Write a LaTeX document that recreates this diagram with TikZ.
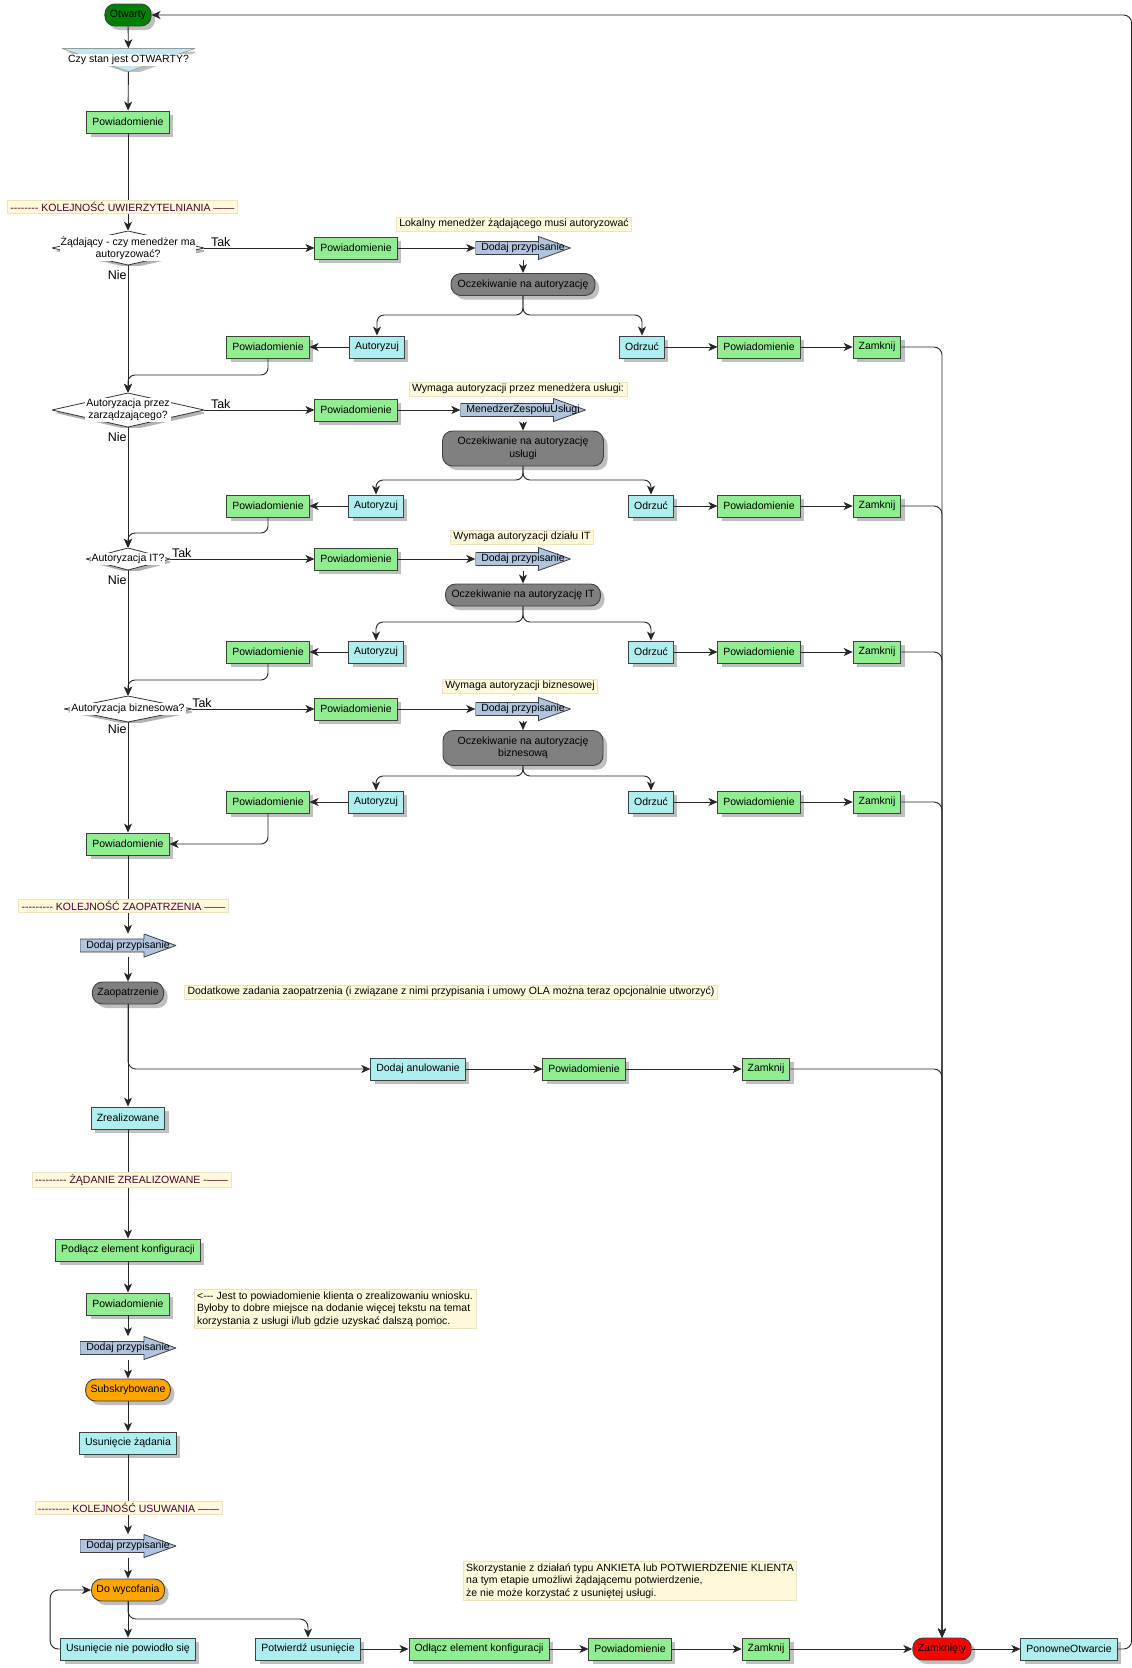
\documentclass[tikz,border=0pt]{standalone}
\usepackage{fontspec}
\newfontfamily\dfont{Liberation Sans}
\usepackage{xcolor}
\usepackage{tikz}
\usetikzlibrary{arrows.meta,shadows}

\definecolor{notifygreen}{HTML}{90EE90}
\definecolor{actioncyan}{HTML}{AFEEEE}
\definecolor{waitgray}{HTML}{808080}
\definecolor{opengreen}{HTML}{008000}
\definecolor{stateorange}{HTML}{FFA500}
\definecolor{closedred}{HTML}{FF0000}
\definecolor{assignblue}{HTML}{B0C4DE}
\definecolor{qblue}{HTML}{C4E6F2}
\definecolor{notefill}{HTML}{FFF9DB}
\definecolor{noteline}{HTML}{EDE3BC}
\definecolor{headtext}{HTML}{4A0030}

\newcommand{\ppb}{path picture bounding box}
\newcommand{\assignpoly}{([yshift=-5pt]\ppb.north west) -- ([xshift=-32pt,yshift=-5pt]\ppb.north east) -- ([xshift=-32pt]\ppb.north east) -- (\ppb.east) -- ([xshift=-32pt]\ppb.south east) -- ([xshift=-32pt,yshift=5pt]\ppb.south east) -- ([yshift=5pt]\ppb.south west) -- cycle}

\begin{document}
\begin{tikzpicture}[x=1pt, y=-1pt,
  every node/.style={font=\dfont\fontsize{10.5}{12.5}\selectfont},
  boxshadow/.style={drop shadow={shadow xshift=4pt, shadow yshift=-4pt, fill=black!25, opacity=1}},
  flowbox/.style={rectangle, draw=black!75, line width=0.9pt, minimum height=22pt, inner xsep=5.5pt, inner ysep=2pt, boxshadow},
  notifybox/.style={flowbox, fill=notifygreen},
  actionbox/.style={flowbox, fill=actioncyan},
  statebox/.style={flowbox, rounded corners=10pt, inner xsep=5pt},
  waitstate/.style={statebox, fill=waitgray, align=center},
  note/.style={rectangle, fill=notefill, draw=noteline, line width=0.6pt, inner xsep=3pt, inner ysep=2pt, align=left},
  heading/.style={note, text=headtext},
  flow/.style={draw=black!85, line width=0.9pt},
  arr/.style={flow, -{Stealth[length=9pt, width=8pt, inset=2.5pt]}},
  tag/.style={font=\dfont\fontsize{12.5}{14}\selectfont, inner sep=1pt},
  qtext/.style={fill=white, inner sep=1pt, align=center},
  question/.style={rectangle, inner sep=0pt, path picture={
    \fill[black!30] ([xshift=3pt,yshift=-3pt]\ppb.north) -- ([xshift=3pt,yshift=-3pt]\ppb.east) -- ([xshift=3pt,yshift=-3pt]\ppb.south) -- ([xshift=3pt,yshift=-3pt]\ppb.west) -- cycle;
    \filldraw[fill=white, draw=black!80, line width=0.8pt] (\ppb.north) -- (\ppb.east) -- (\ppb.south) -- (\ppb.west) -- cycle;}},
  funnel/.style={rectangle, inner sep=0pt, minimum width=133pt, minimum height=23pt, path picture={
    \fill[black!25] ([xshift=4pt,yshift=-3pt]\ppb.north west) -- ([xshift=4pt,yshift=-3pt]\ppb.north east) -- ([xshift=4pt,yshift=-3pt]\ppb.south) -- cycle;
    \filldraw[fill=qblue, draw=black!40, line width=0.6pt] (\ppb.north west) -- (\ppb.north east) -- (\ppb.south) -- cycle;}},
  assign/.style={rectangle, inner sep=2pt, minimum height=23pt, path picture={
    \begin{scope}[xshift=4pt,yshift=-4pt]\fill[black!28] \assignpoly;\end{scope}
    \filldraw[fill=assignblue, draw=black!75, line width=0.8pt] \assignpoly;}}]

\path[use as bounding box, fill=white] (0,0) rectangle (1132,1668);

\node[statebox, fill=opengreen] (open) at (128,15) {Otwarty};
\node[funnel] (isopen) at (128.5,60) {};
\node[qtext] (isopentext) at (isopen) {Czy stan jest OTWARTY?};
\node[notifybox] (notify0) at (128,122) {Powiadomienie};
\node[heading] (authseq) at (122.5,207) {-------- KOLEJNOŚĆ UWIERZYTELNIANIA ——};

\node[question, minimum width=152pt, minimum height=34pt] (ask1) at (128,248) {};
\node[qtext] (ask1text) at (ask1) {Żądający - czy menedżer ma\\autoryzować?};
\node[notifybox] (notify1) at (356,248) {Powiadomienie};
\node[note] (note1) at (514,224) {Lokalny menedżer żądającego musi autoryzować};
\node[assign, minimum width=95pt] (assign1) at (523,248) {Dodaj przypisanie};
\node[waitstate, minimum width=144pt] (wait1) at (523,284.5) {Oczekiwanie na autoryzację};
\coordinate (split1) at (523,315);
\node[actionbox] (approve1) at (377,347) {Autoryzuj};
\node[notifybox] (approved1) at (268,347) {Powiadomienie};
\node[actionbox] (reject1) at (642,347) {Odrzuć};
\node[notifybox] (rejected1) at (759,347) {Powiadomienie};
\node[notifybox] (close1) at (877,347) {Zamknij};
\coordinate (join1) at (128,375);

\node[question, minimum width=152pt, minimum height=34pt] (ask2) at (128,410) {};
\node[qtext] (ask2text) at (ask2) {Autoryzacja przez\\zarządzającego?};
\node[notifybox] (notify2) at (356,410) {Powiadomienie};
\node[note] (note2) at (518,389) {Wymaga autoryzacji przez menedżera usługi:};
\node[assign, minimum width=125pt] (assign2) at (523,410) {MenedżerZespołuUsługi};
\node[waitstate, minimum width=161pt, minimum height=35pt] (wait2) at (523,448.5) {Oczekiwanie na autoryzację\\usługi};
\coordinate (split2) at (523,480);
\node[actionbox] (approve2) at (376,506) {Autoryzuj};
\node[notifybox] (approved2) at (268,506) {Powiadomienie};
\node[actionbox] (reject2) at (651,506) {Odrzuć};
\node[notifybox] (rejected2) at (759,506) {Powiadomienie};
\node[notifybox] (close2) at (877,506) {Zamknij};
\coordinate (join2) at (128,533);

\node[question, minimum width=84pt, minimum height=22pt] (ask3) at (128,559) {};
\node[qtext] (ask3text) at (ask3) {Autoryzacja IT?};
\node[notifybox] (notify3) at (356,559) {Powiadomienie};
\node[note] (note3) at (522,537) {Wymaga autoryzacji działu IT};
\node[assign, minimum width=95pt] (assign3) at (523,559) {Dodaj przypisanie};
\node[waitstate, minimum width=155pt] (wait3) at (523,595) {Oczekiwanie na autoryzację IT};
\coordinate (split3) at (523,622);
\node[actionbox] (approve3) at (376,652) {Autoryzuj};
\node[notifybox] (approved3) at (268,652) {Powiadomienie};
\node[actionbox] (reject3) at (651,652) {Odrzuć};
\node[notifybox] (rejected3) at (759,652) {Powiadomienie};
\node[notifybox] (close3) at (877,652) {Zamknij};
\coordinate (join3) at (128,680);

\node[question, minimum width=128pt, minimum height=26pt] (ask4) at (128,709) {};
\node[qtext] (ask4text) at (ask4) {Autoryzacja biznesowa?};
\node[notifybox] (notify4) at (356,709) {Powiadomienie};
\node[note] (note4) at (520,686) {Wymaga autoryzacji biznesowej};
\node[assign, minimum width=95pt] (assign4) at (523,709) {Dodaj przypisanie};
\node[waitstate, minimum width=160pt, minimum height=35pt] (wait4) at (523,748) {Oczekiwanie na autoryzację\\biznesową};
\coordinate (split4) at (523,776);
\node[actionbox] (approve4) at (376,802) {Autoryzuj};
\node[notifybox] (approved4) at (268,802) {Powiadomienie};
\node[actionbox] (reject4) at (651,802) {Odrzuć};
\node[notifybox] (rejected4) at (759,802) {Powiadomienie};
\node[notifybox] (close4) at (877,802) {Zamknij};

\node[notifybox] (notify5) at (128,844) {Powiadomienie};
\node[heading] (provseq) at (123.5,906) {--------- KOLEJNOŚĆ ZAOPATRZENIA ——};
\node[assign, minimum width=96pt] (assign5) at (128,945.5) {Dodaj przypisanie};
\node[waitstate] (provision) at (128,993) {Zaopatrzenie};
\node[note] (note5) at (451,992) {Dodatkowe zadania zaopatrzenia (i związane z nimi przypisania i umowy OLA można teraz opcjonalnie utworzyć)};
\node[actionbox] (cancel) at (418,1069) {Dodaj anulowanie};
\node[notifybox] (cancelled) at (584,1069) {Powiadomienie};
\node[notifybox] (close5) at (766,1069) {Zamknij};
\node[actionbox] (fulfilled) at (128,1118) {Zrealizowane};
\node[heading] (doneseq) at (131.5,1180) {--------- ŻĄDANIE ZREALIZOWANE -——};
\node[notifybox] (linkci) at (128,1250) {Podłącz element konfiguracji};
\node[notifybox] (notify6) at (128,1304) {Powiadomienie};
\node[note] (note6) at (335,1309) {<--- Jest to powiadomienie klienta o zrealizowaniu wniosku.\\Byłoby to dobre miejsce na dodanie więcej tekstu na temat\\korzystania z usługi i/lub gdzie uzyskać dalszą pomoc.};
\node[assign, minimum width=96pt] (assign6) at (128,1348) {Dodaj przypisanie};
\node[statebox, fill=stateorange] (subscribed) at (128,1390) {Subskrybowane};
\node[actionbox] (retire) at (128,1443) {Usunięcie żądania};
\node[heading] (retseq) at (128.5,1508) {--------- KOLEJNOŚĆ USUWANIA ——};
\node[assign, minimum width=96pt] (assign7) at (128,1546) {Dodaj przypisanie};
\node[statebox, fill=stateorange] (toretire) at (128,1590) {Do wycofania};
\coordinate (retsplit) at (128,1619);
\node[actionbox] (retfail) at (128,1649) {Usunięcie nie powiodło się};
\node[actionbox] (retok) at (308,1649) {Potwierdź usunięcie};
\node[notifybox] (unlinkci) at (479,1649) {Odłącz element konfiguracji};
\node[notifybox] (notify7) at (630,1649) {Powiadomienie};
\node[notifybox] (close6) at (766,1649) {Zamknij};
\node[note] (note7) at (630,1581) {Skorzystanie z działań typu ANKIETA lub POTWIERDZENIE KLIENTA\\na tym etapie umożliwi żądającemu potwierdzenie,\\ że nie może korzystać z usuniętej usługi.};
\node[statebox, fill=closedred] (closed) at (942,1649) {Zamknięty};
\node[actionbox] (reopen) at (1069,1649) {PonowneOtwarcie};

\draw[arr] (open) -- (isopen);
\draw[arr] (isopen) -- (notify0);
\draw[flow] (notify0) -- (notify0 |- authseq.north);
\draw[arr] (ask1 |- authseq.south) -- (ask1);

\draw[arr] (ask1) -- node[tag, pos=0.15, above] (yes1) {Tak} (notify1);
\draw[arr] (notify1) -- (assign1);
\draw[arr] (assign1) -- (wait1);
\draw[arr, rounded corners=7pt] (wait1) -- (split1) -| (approve1);
\draw[arr, rounded corners=7pt] (wait1) -- (split1) -| (reject1);
\draw[arr] (approve1) -- (approved1);
\draw[arr] (reject1) -- (rejected1);
\draw[arr] (rejected1) -- (close1);
\draw[arr, rounded corners=8pt] (close1) -| (closed);
\draw[arr] (ask1) -- node[tag, pos=0.08, left] (no1) {Nie} (ask2);
\draw[arr, rounded corners=7pt] (approved1) |- (join1) -- (ask2);

\draw[arr] (ask2) -- node[tag, pos=0.15, above] (yes2) {Tak} (notify2);
\draw[arr] (notify2) -- (assign2);
\draw[arr] (assign2) -- (wait2);
\draw[arr, rounded corners=7pt] (wait2) -- (split2) -| (approve2);
\draw[arr, rounded corners=7pt] (wait2) -- (split2) -| (reject2);
\draw[arr] (approve2) -- (approved2);
\draw[arr] (reject2) -- (rejected2);
\draw[arr] (rejected2) -- (close2);
\draw[arr, rounded corners=8pt] (close2) -| (closed);
\draw[arr] (ask2) -- node[tag, pos=0.08, left] (no2) {Nie} (ask3);
\draw[arr, rounded corners=7pt] (approved2) |- (join2) -- (ask3);

\draw[arr] (ask3) -- node[tag, pos=0.08, above] (yes3) {Tak} (notify3);
\draw[arr] (notify3) -- (assign3);
\draw[arr] (assign3) -- (wait3);
\draw[arr, rounded corners=7pt] (wait3) -- (split3) -| (approve3);
\draw[arr, rounded corners=7pt] (wait3) -- (split3) -| (reject3);
\draw[arr] (approve3) -- (approved3);
\draw[arr] (reject3) -- (rejected3);
\draw[arr] (rejected3) -- (close3);
\draw[arr, rounded corners=8pt] (close3) -| (closed);
\draw[arr] (ask3) -- node[tag, pos=0.08, left] (no3) {Nie} (ask4);
\draw[arr, rounded corners=7pt] (approved3) |- (join3) -- (ask4);

\draw[arr] (ask4) -- node[tag, pos=0.08, above] (yes4) {Tak} (notify4);
\draw[arr] (notify4) -- (assign4);
\draw[arr] (assign4) -- (wait4);
\draw[arr, rounded corners=7pt] (wait4) -- (split4) -| (approve4);
\draw[arr, rounded corners=7pt] (wait4) -- (split4) -| (reject4);
\draw[arr] (approve4) -- (approved4);
\draw[arr] (reject4) -- (rejected4);
\draw[arr] (rejected4) -- (close4);
\draw[arr, rounded corners=8pt] (close4) -| (closed);
\draw[arr] (ask4) -- node[tag, pos=0.06, left] (no4) {Nie} (notify5);
\draw[arr, rounded corners=7pt] (approved4) |- (notify5);

\draw[flow] (notify5) -- (notify5 |- provseq.north);
\draw[arr] (notify5 |- provseq.south) -- (assign5);
\draw[arr] (assign5) -- (provision);
\draw[arr] (provision) -- (fulfilled);
\draw[arr, rounded corners=8pt] (provision) |- (cancel);
\draw[arr] (cancel) -- (cancelled);
\draw[arr] (cancelled) -- (close5);
\draw[arr, rounded corners=8pt] (close5) -| (closed);
\draw[flow] (fulfilled) -- (fulfilled |- doneseq.north);
\draw[arr] (fulfilled |- doneseq.south) -- (linkci);
\draw[arr] (linkci) -- (notify6);
\draw[arr] (notify6) -- (assign6);
\draw[arr] (assign6) -- (subscribed);
\draw[arr] (subscribed) -- (retire);
\draw[flow] (retire) -- (retire |- retseq.north);
\draw[arr] (retire |- retseq.south) -- (assign7);
\draw[arr] (assign7) -- (toretire);
\draw[arr] (toretire) -- (retfail);
\draw[arr, rounded corners=8pt] (toretire) -- (retsplit) -| (retok);
\draw[arr, rounded corners=8pt] (retfail.west) -- ++(-10,0) |- (toretire);
\draw[arr] (retok) -- (unlinkci);
\draw[arr] (unlinkci) -- (notify7);
\draw[arr] (notify7) -- (close6);
\draw[arr] (close6) -- (closed);
\draw[arr] (closed) -- (reopen);
\draw[arr, rounded corners=8pt] (reopen.east) -- ++(14,0) |- (open);
\end{tikzpicture}
\end{document}
